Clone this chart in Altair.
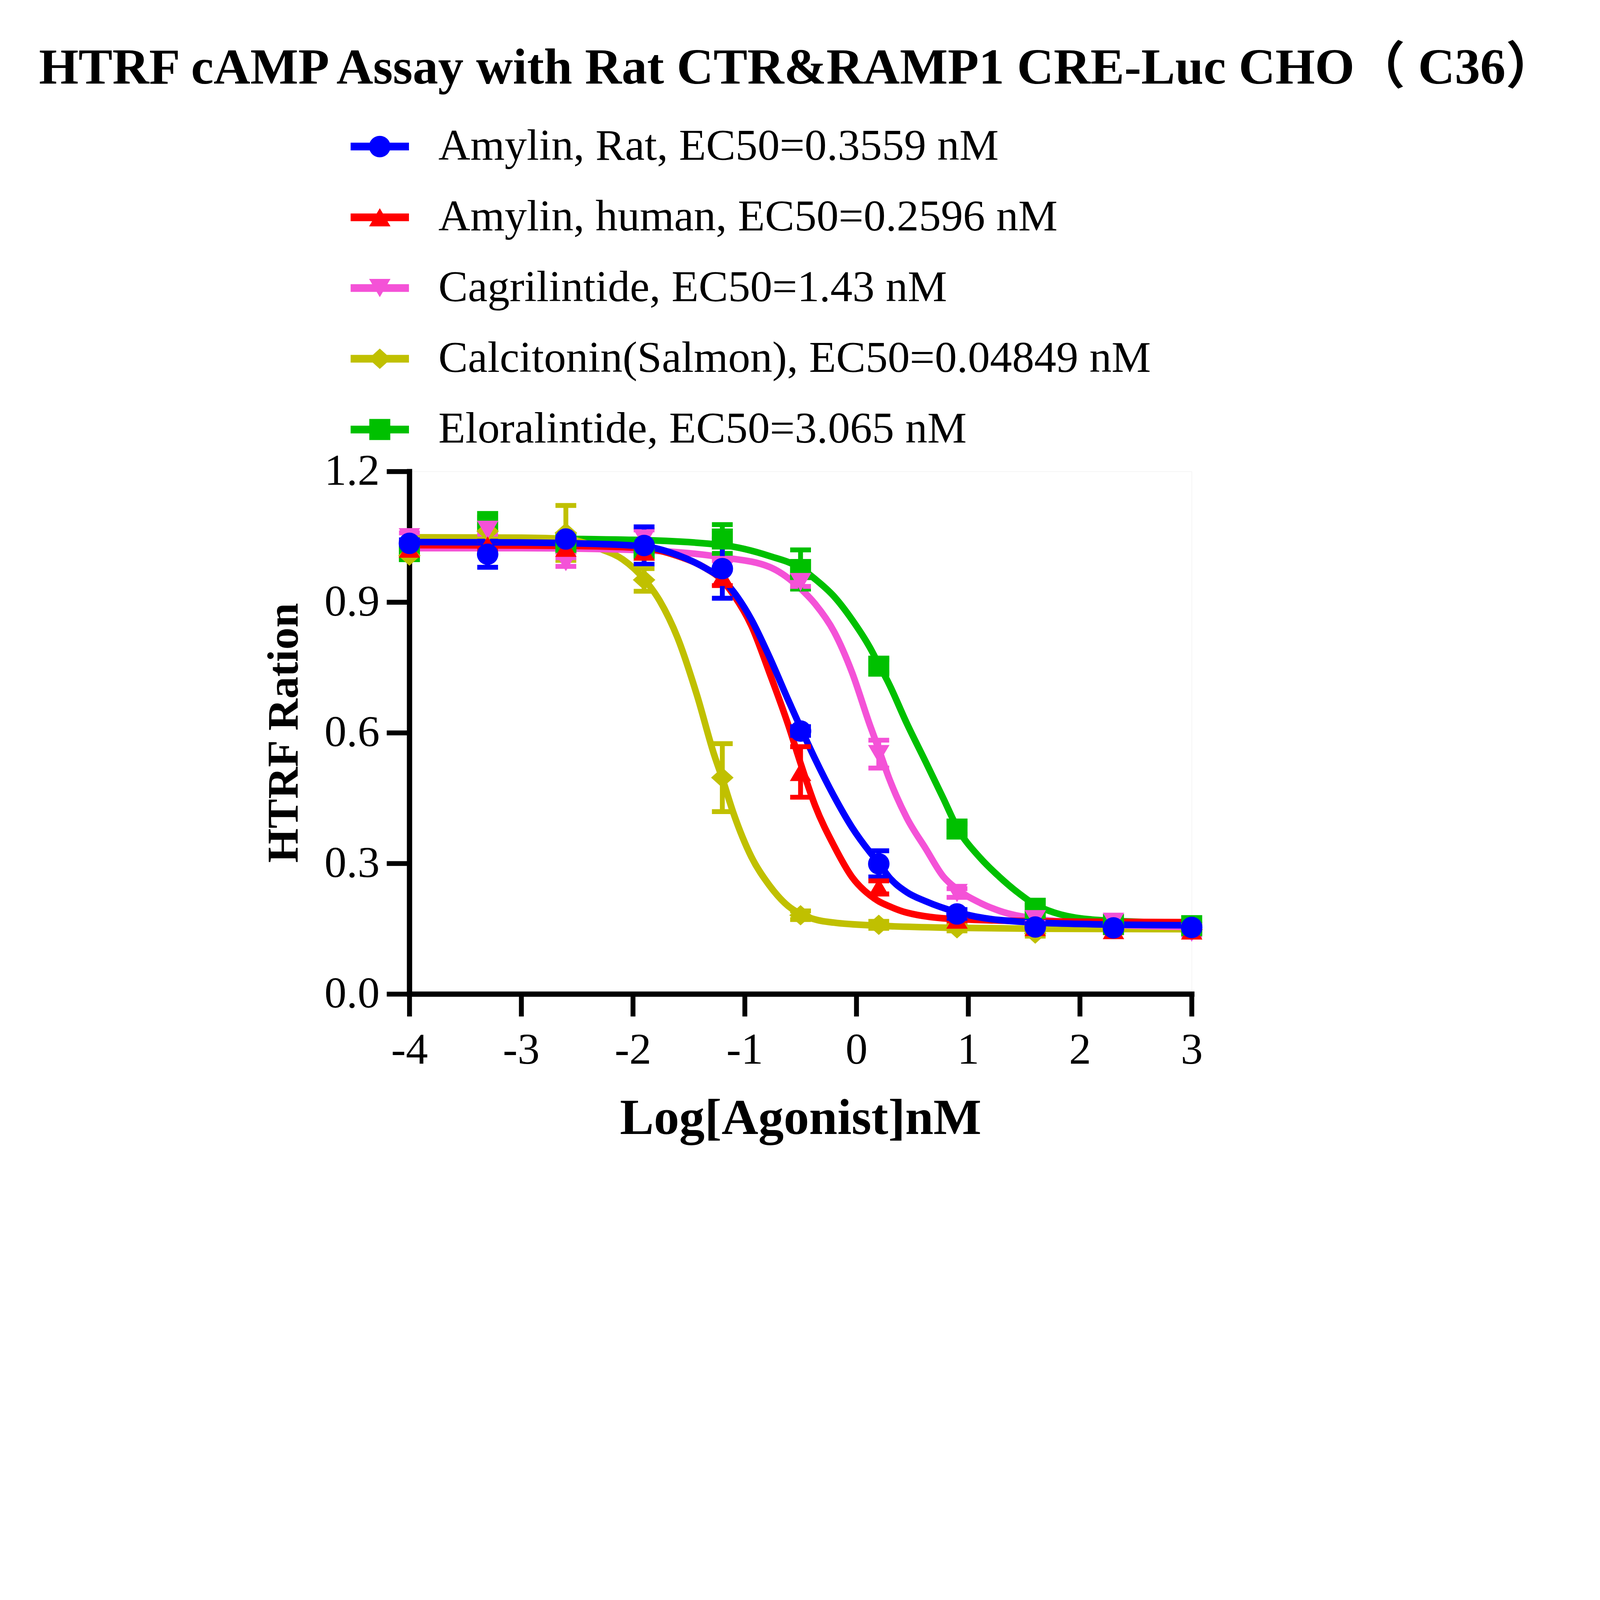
import altair as alt
import pandas as pd

# ---------------- data ----------------
series_names = [
    "Amylin, Rat, EC50=0.3559 nM",
    "Amylin, human, EC50=0.2596 nM",
    "Cagrilintide, EC50=1.43 nM",
    "Calcitonin(Salmon), EC50=0.04849 nM",
    "Eloralintide, EC50=3.065 nM",
]
series_colors = ["#0000FF", "#FF0000", "#F452D7", "#C0C000", "#00C000"]

log_dose = [-4.0, -3.3, -2.6, -1.9, -1.2, -0.5, 0.2, 0.9, 1.6, 2.3, 3.0]

rat_mean = [1.035, 1.010, 1.045, 1.030, 0.977, 0.604, 0.299, 0.184, 0.154, 0.152, 0.153]
rat_sem = [0.008, 0.030, 0.010, 0.043, 0.068, 0.010, 0.030, 0.010, 0.008, 0.006, 0.006]

human_mean = [1.023, 1.030, 1.025, 1.016, 0.958, 0.510, 0.245, 0.171, 0.154, 0.147, 0.146]
human_sem = [0.008, 0.010, 0.010, 0.015, 0.020, 0.058, 0.015, 0.008, 0.006, 0.006, 0.006]

cagri_mean = [1.049, 1.066, 0.992, 1.046, 0.985, 0.946, 0.551, 0.232, 0.172, 0.166, 0.141]
cagri_sem = [0.010, 0.010, 0.010, 0.020, 0.010, 0.010, 0.032, 0.010, 0.008, 0.006, 0.006]

salmon_mean = [1.007, 1.063, 1.059, 0.951, 0.497, 0.181, 0.159, 0.151, 0.139, 0.150, 0.148]
salmon_sem = [0.008, 0.010, 0.063, 0.026, 0.078, 0.010, 0.008, 0.006, 0.006, 0.006, 0.006]

elora_mean = [1.016, 1.085, 1.037, 1.024, 1.045, 0.975, 0.753, 0.379, 0.197, 0.160, 0.157]
elora_sem = [0.010, 0.010, 0.010, 0.010, 0.033, 0.045, 0.015, 0.012, 0.008, 0.006, 0.006]

# fitted curves
rat_curve_x = [-4, -3, -2.5, -1.9, -1.6, -1.35, -1.2, -1.1, -0.94, -0.78, -0.61, -0.5,
               -0.37, -0.2, -0.04, 0.12, 0.2, 0.29, 0.45, 0.62, 0.9, 1.28, 2, 3]
rat_curve_y = [1.038, 1.037, 1.035, 1.028, 1.008, 0.978, 0.953, 0.924, 0.860, 0.775, 0.675, 0.612,
               0.540, 0.454, 0.383, 0.326, 0.301, 0.269, 0.234, 0.213, 0.188, 0.170, 0.161, 0.158]

human_curve_x = [-4, -3, -2.5, -1.9, -1.6, -1.35, -1.2, -1.1, -0.94, -0.78, -0.61, -0.5,
                 -0.37, -0.2, -0.04, 0.12, 0.2, 0.29, 0.45, 0.9, 2, 3]
human_curve_y = [1.031, 1.030, 1.029, 1.024, 1.006, 0.978, 0.950, 0.917, 0.846, 0.739, 0.618, 0.530,
                 0.433, 0.340, 0.269, 0.227, 0.213, 0.202, 0.187, 0.172, 0.166, 0.165]

cagri_curve_x = [-4, -3, -2, -1.2, -0.78, -0.5, -0.37, -0.2, -0.04, 0.12, 0.2, 0.29, 0.45,
                 0.62, 0.78, 0.9, 1.11, 1.28, 1.6, 2.03, 3]
cagri_curve_y = [1.024, 1.024, 1.020, 1.003, 0.981, 0.931, 0.896, 0.832, 0.739, 0.618, 0.562, 0.497, 0.405,
                 0.334, 0.269, 0.241, 0.209, 0.191, 0.173, 0.163, 0.154]

salmon_curve_x = [-4, -3, -2.6, -2.29, -2.09, -1.9, -1.76, -1.6, -1.43, -1.27, -1.2, -1.1,
                  -0.94, -0.78, -0.61, -0.5, -0.35, -0.2, 0.2, 0.9, 1.6, 3]
salmon_curve_y = [1.049, 1.048, 1.045, 1.022, 0.998, 0.953, 0.903, 0.818, 0.689, 0.547, 0.495, 0.415,
                  0.315, 0.250, 0.202, 0.184, 0.170, 0.164, 0.157, 0.152, 0.150, 0.149]

elora_curve_x = [-4, -3, -2, -1.2, -0.78, -0.5, -0.37, -0.2, -0.04, 0.12, 0.2, 0.29, 0.45,
                 0.62, 0.78, 0.9, 1.11, 1.28, 1.44, 1.6, 1.77, 2.03, 2.5, 3]
elora_curve_y = [1.047, 1.046, 1.043, 1.031, 1.006, 0.978, 0.953, 0.913, 0.860, 0.796, 0.757, 0.713, 0.622,
                 0.533, 0.448, 0.383, 0.312, 0.269, 0.234, 0.205, 0.187, 0.173, 0.166, 0.163]

x_ticks = [-4, -3, -2, -1, 0, 1, 2, 3]
y_ticks = [0.0, 0.3, 0.6, 0.9, 1.2]

# ---------------- styles ----------------
FONT = "Liberation Serif"
marker_paths = [
    "M-1,0A1,1,0,1,1,1,0A1,1,0,1,1,-1,0Z",                 # circle
    "M0,-0.85L1,0.85L-1,0.85Z",                             # triangle up
    "M-1,-0.85L1,-0.85L0,0.85Z",                            # triangle down
    "M0,-0.95L1.05,0L0,0.95L-1.05,0Z",                      # diamond
    "M-0.98,-0.98L0.98,-0.98L0.98,0.98L-0.98,0.98Z",        # square
]
bar_path = "M-2.72,-0.36L2.72,-0.36L2.72,0.36L-2.72,0.36Z "
legend_paths = [bar_path + p for p in marker_paths]

# ---------------- tables ----------------
means = [rat_mean, human_mean, cagri_mean, salmon_mean, elora_mean]
sems = [rat_sem, human_sem, cagri_sem, salmon_sem, elora_sem]
curves = [(rat_curve_x, rat_curve_y), (human_curve_x, human_curve_y),
          (cagri_curve_x, cagri_curve_y), (salmon_curve_x, salmon_curve_y),
          (elora_curve_x, elora_curve_y)]

draw_order = [4, 3, 2, 1, 0]  # blue drawn last (on top)
pt_rows, cv_rows = [], []
for i in draw_order:
    for d, m, s in zip(log_dose, means[i], sems[i]):
        pt_rows.append({"series": series_names[i], "dose": d, "mean": m,
                        "lo": m - s, "hi": m + s})
    for cx, cy in zip(*curves[i]):
        cv_rows.append({"series": series_names[i], "dose": cx, "val": cy})
points_df = pd.DataFrame(pt_rows)
curves_df = pd.DataFrame(cv_rows)
legend_df = pd.DataFrame({"series": series_names})

# ---------------- encodings ----------------
x_scale = alt.Scale(domain=[-4, 3], nice=False, zero=False)
y_scale = alt.Scale(domain=[0, 1.2], nice=False, zero=True)

x_axis = alt.Axis(
    title="Log[Agonist]nM", values=x_ticks, labelExpr="'' + datum.value",
    labelFont=FONT, labelFontSize=200, labelColor="black", labelPadding=55,
    labelFlush=False, labelOverlap=False, labelLimit=1000,
    tickSize=101, tickWidth=22, tickColor="black", tickCap="butt",
    domainColor="black", domainWidth=24, domainCap="square", grid=False,
    titleFont=FONT, titleFontSize=230, titleFontWeight="bold", titleColor="black",
    titleBaseline="alphabetic", titleY=632, titleLimit=5000,
)
y_axis = alt.Axis(
    title="HTRF Ration", values=y_ticks, format=".1f",
    labelFont=FONT, labelFontSize=200, labelColor="black", labelPadding=32,
    labelFlush=False, labelOverlap=False, labelLimit=1000,
    tickSize=103, tickWidth=22, tickColor="black", tickCap="butt",
    domainColor="black", domainWidth=24, domainCap="square", grid=False,
    titleFont=FONT, titleFontSize=200, titleFontWeight="bold", titleColor="black",
    titleBaseline="alphabetic", titleX=-506, titleY=1182, titleAngle=270, titleLimit=5000,
)

def col(legend=None):
    return alt.Color("series:N", scale=alt.Scale(domain=series_names, range=series_colors),
                     legend=legend)

lines = alt.Chart(curves_df).mark_line(strokeWidth=30, interpolate="monotone").encode(
    x=alt.X("dose:Q", scale=x_scale, axis=x_axis),
    y=alt.Y("val:Q", scale=y_scale, axis=y_axis),
    color=col(),
)

errbars = alt.Chart(points_df).mark_errorbar(ticks=True, size=94, thickness=22, opacity=1).encode(
    x=alt.X("dose:Q", scale=x_scale, axis=x_axis),
    y=alt.Y("lo:Q", scale=y_scale, axis=y_axis),
    y2="hi:Q",
    color=col(),
)

points = alt.Chart(points_df).mark_point(filled=True, size=9409, opacity=1, strokeWidth=0).encode(
    x=alt.X("dose:Q", scale=x_scale, axis=x_axis),
    y=alt.Y("mean:Q", scale=y_scale, axis=y_axis),
    color=col(),
    shape=alt.Shape("series:N", scale=alt.Scale(domain=series_names, range=marker_paths),
                    legend=None),
)

leg = alt.Legend(
    title=None, orient="none", legendX=-234, legendY=-1570, direction="vertical",
    labelFont=FONT, labelFontSize=200, labelColor="black", labelLimit=6000,
    labelOffset=165, symbolSize=9409, symbolStrokeWidth=0, symbolOffset=0,
    rowPadding=120, padding=0,
)
legend_layer = alt.Chart(legend_df).mark_point(filled=True, size=9409, opacity=1, strokeWidth=0).encode(
    color=col(leg),
    shape=alt.Shape("series:N", scale=alt.Scale(domain=series_names, range=legend_paths),
                    legend=leg),
).transform_filter("false")

chart = alt.layer(lines, errbars, points, legend_layer).resolve_scale(
    color="independent", shape="independent"
).properties(
    width=3539, height=2364,
    autosize=alt.AutoSizeParams(type="none"),
    padding={"left": 1838, "top": 682, "right": 1833, "bottom": 700},
    title=alt.TitleParams(
        text="HTRF cAMP Assay with Rat CTR&RAMP1 CRE-Luc CHO（ C36）",
        font=FONT + ", Noto Sans CJK SC", fontSize=230, fontWeight="bold", color="black",
        anchor="middle", frame="group", dx=-13, offset=136,
    ),
).configure_view(stroke=None).configure(background="white")

chart.save("out.html", embed_options={"renderer": "svg", "actions": False})
